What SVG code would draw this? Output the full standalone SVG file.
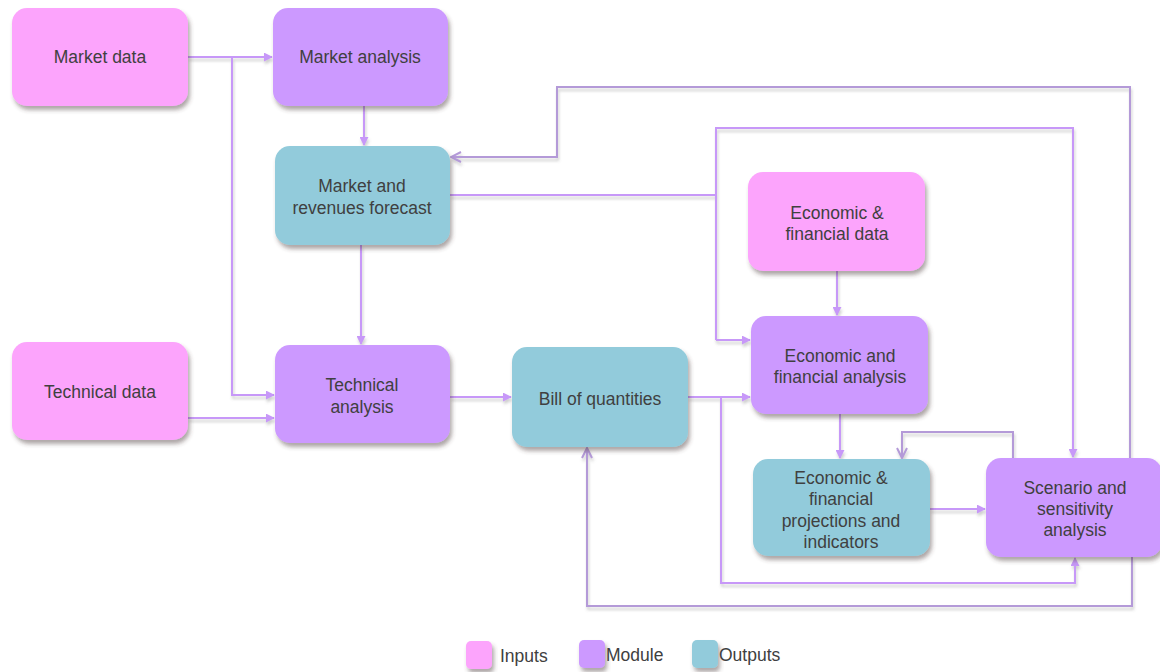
<svg xmlns="http://www.w3.org/2000/svg" width="1160" height="672" viewBox="0 0 1160 672">
  <defs>
    <filter id="shadow" x="-10%" y="-10%" width="130%" height="140%">
      <feDropShadow dx="2" dy="4" stdDeviation="2" flood-color="#4a3a3a" flood-opacity="0.45"/>
    </filter>
    <filter id="lineShadow" x="-5%" y="-5%" width="110%" height="120%">
      <feDropShadow dx="1" dy="3" stdDeviation="1.5" flood-color="#777" flood-opacity="0.35"/>
    </filter>
    <marker id="head" viewBox="0 0 10 10" refX="9" refY="5" markerWidth="9" markerHeight="9" markerUnits="userSpaceOnUse" orient="auto">
      <path d="M0,0 L10,5 L0,10 Z" fill="#C798F8"/>
    </marker>
    <marker id="open" viewBox="0 0 12 12" refX="11" refY="6" markerWidth="12" markerHeight="12" markerUnits="userSpaceOnUse" orient="auto">
      <path d="M1,1 L11,6 L1,11" fill="none" stroke="#B49AD8" stroke-width="2"/>
    </marker>
  </defs>
  <style>
    .box { filter: url(#shadow); }
    .input { fill: #FCA4FC; }
    .module { fill: #CC99FF; }
    .output { fill: #92CBDB; }
    text { font-family: "Liberation Sans", Arial, sans-serif; font-size: 17.5px; fill: #404040; text-anchor: middle; dominant-baseline: central; }
    .legend text { text-anchor: start; }
    .flow { fill: none; stroke: #C798F8; stroke-width: 2; marker-end: url(#head); }
    .loop { fill: none; stroke: #B49AD8; stroke-width: 2; marker-end: url(#open); }
    .plain { fill: none; stroke: #C798F8; stroke-width: 2; }
  </style>

  <rect width="1160" height="672" fill="#ffffff"/>

  <!-- connectors -->
  <g id="connectors" filter="url(#lineShadow)">
    <path class="flow" d="M188,57 H272"/>
    <path class="flow" d="M188,57 H232 V395 H274"/>
    <path class="flow" d="M364,106 V145"/>
    <path class="flow" d="M361,245 V344"/>
    <path class="flow" d="M188,418 H274"/>
    <path class="flow" d="M450,397 H511"/>
    <path class="flow" d="M688,397 H750"/>
    <path class="flow" d="M688,397 H721 V583 H1075 V558"/>
    <path class="plain" d="M450,195 H716"/>
    <path class="flow" d="M716,340 V128 H1073 V457"/>
    <path class="flow" d="M716,340 H750"/>
    <path class="flow" d="M837,271 V315"/>
    <path class="flow" d="M840,414 V458"/>
    <path class="flow" d="M930,509 H985"/>
    <path class="loop" d="M1013,458 V432 H902 V458"/>
    <path class="loop" d="M1130,458 V87 H557 V157 H451"/>
    <path class="loop" d="M1132,557 V606 H587 V448"/>
  </g>

  <!-- nodes -->
  <g id="market-data">
    <rect class="box input" x="12" y="8" width="176" height="98" rx="15"/>
    <text x="100" y="57">Market data</text>
  </g>
  <g id="market-analysis">
    <rect class="box module" x="273" y="8" width="175" height="98" rx="15"/>
    <text x="360" y="57">Market analysis</text>
  </g>
  <g id="market-forecast">
    <rect class="box output" x="275" y="146" width="175" height="99" rx="15"/>
    <text x="362" y="186">Market and</text>
    <text x="362" y="208">revenues forecast</text>
  </g>
  <g id="technical-data">
    <rect class="box input" x="12" y="342" width="176" height="98" rx="15"/>
    <text x="100" y="392">Technical data</text>
  </g>
  <g id="technical-analysis">
    <rect class="box module" x="275" y="345" width="175" height="98" rx="15"/>
    <text x="362" y="385">Technical</text>
    <text x="362" y="407">analysis</text>
  </g>
  <g id="bill-of-quantities">
    <rect class="box output" x="512" y="347" width="176" height="100" rx="15"/>
    <text x="600" y="399">Bill of quantities</text>
  </g>
  <g id="econ-data">
    <rect class="box input" x="748" y="172" width="177" height="99" rx="15"/>
    <text x="837" y="213">Economic &amp;</text>
    <text x="837" y="234">financial data</text>
  </g>
  <g id="econ-analysis">
    <rect class="box module" x="751" y="316" width="177" height="98" rx="15"/>
    <text x="840" y="356">Economic and</text>
    <text x="840" y="377">financial analysis</text>
  </g>
  <g id="projections">
    <rect class="box output" x="753" y="459" width="177" height="97" rx="15"/>
    <text x="841" y="478">Economic &amp;</text>
    <text x="841" y="499">financial</text>
    <text x="841" y="521">projections and</text>
    <text x="841" y="542">indicators</text>
  </g>
  <g id="scenario">
    <rect class="box module" x="986" y="458" width="176" height="99" rx="15"/>
    <text x="1075" y="488">Scenario and</text>
    <text x="1075" y="509">sensitivity</text>
    <text x="1075" y="530">analysis</text>
  </g>

  <!-- legend -->
  <g id="legend" class="legend">
    <rect class="box input" x="466" y="641" width="26" height="28" rx="5"/>
    <text x="500" y="656">Inputs</text>
    <rect class="box module" x="579" y="640" width="26" height="28" rx="5"/>
    <text x="606" y="655">Module</text>
    <rect class="box output" x="692" y="640" width="26" height="28" rx="5"/>
    <text x="719" y="655">Outputs</text>
  </g>
</svg>
